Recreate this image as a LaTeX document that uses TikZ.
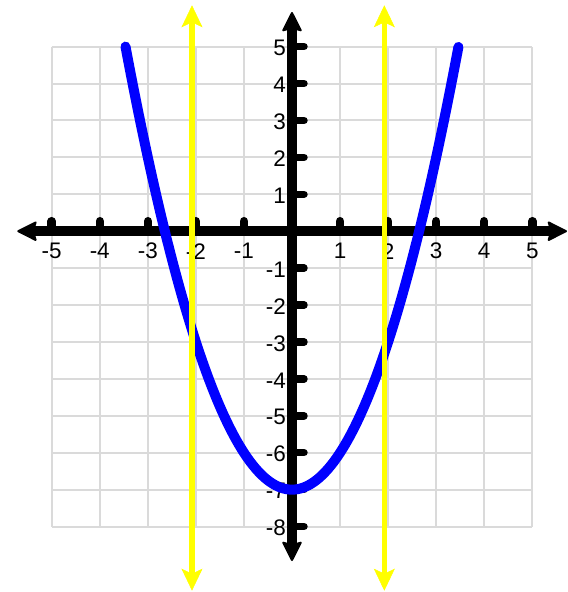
\documentclass[tikz,border=0pt]{standalone}
\usepackage{fontspec}
\setmainfont{Liberation Sans}
\usetikzlibrary{arrows.meta}
\definecolor{gridgray}{HTML}{DADADA}
\definecolor{pblue}{HTML}{0000FF}
\definecolor{pyellow}{HTML}{FFFF00}
\begin{document}
\begin{tikzpicture}[x=48.06pt,y=36.92pt,
  axtip/.tip={Stealth[length=21pt,width=21pt,inset=3pt,round,line width=2pt]},
  ytip/.tip={Stealth[length=22pt,width=21pt,inset=5pt,line width=0.5pt]},
  gridline/.style={draw=gridgray,line width=2pt},
  axisline/.style={draw=black,line width=9.5pt,axtip-axtip},
  xtick/.style={draw=black,line width=8.5pt,line cap=round},
  ytick/.style={draw=black,line width=7.5pt,line cap=round},
  xlab/.style={inner sep=0pt,anchor=center,font=\fontsize{22.5}{26}\selectfont},
  ylab/.style={inner sep=0pt,anchor=east,font=\fontsize{22.5}{26}\selectfont},
  curve/.style={draw=pblue,line width=10pt,line cap=round,line join=round},
  vline/.style={draw=pyellow,line width=5.5pt,ytip-ytip},
]
\useasboundingbox (-6.0757,-9.7725) rectangle (5.7428,6.2622);
% grid
\foreach \i in {-5,...,5}
  \draw[gridline] (\i,-8) -- (\i,5);
\foreach \j in {-8,...,5}
  \draw[gridline] (-5,\j) -- (5,\j);
% axes
\coordinate (xl) at (-5.716,0);
\coordinate (xr) at (5.722,0);
\coordinate (yt) at (0,5.937);
\coordinate (yb) at (0,-8.933);
\draw[axisline] (xl) -- (xr);
\draw[axisline] (yb) -- (yt);
% ticks
\foreach \i in {-5,...,-1,1,2,...,5}
  \draw[xtick] (\i,0) -- ++(0,10pt);
\foreach \j in {-8,...,-1,1,2,...,5}
  \draw[ytick] (0,\j) -- ++(12pt,0);
% labels
\foreach \i in {-5,...,-1,1,2,...,5}
  \node[xlab] (xlab\i) at ([yshift=-20pt]\i,0) {\i};
\foreach \j in {-8,...,-1,1,2,...,5}
  \node[ylab] (ylab\j) at ([xshift=-6pt,yshift=-1.5pt]0,\j) {\j};
% parabola
\draw[curve] plot[domain=-3.4641:3.4641,samples=121,smooth] (\x,{\x*\x-7});
% vertical lines
\coordinate (v1t) at (-2.081,6.119);
\coordinate (v1b) at (-2.081,-9.737);
\coordinate (v2t) at (1.921,6.119);
\coordinate (v2b) at (1.921,-9.737);
\draw[vline] (v1b) -- (v1t);
\draw[vline] (v2b) -- (v2t);
\end{tikzpicture}
\end{document}
